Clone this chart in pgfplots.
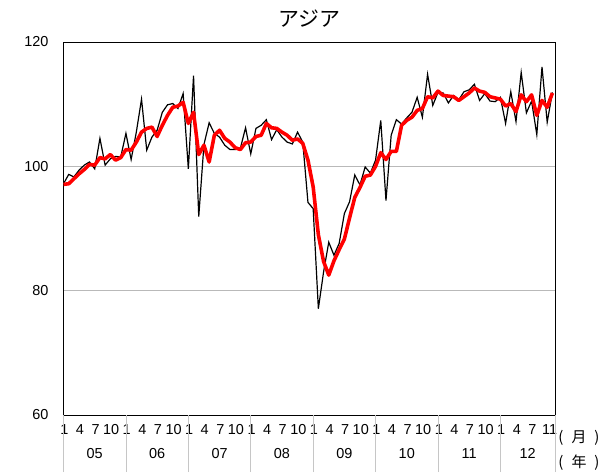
\documentclass[border=0pt]{standalone}
\usepackage{fontspec}
\setmainfont{Liberation Sans}
\newfontfamily\cjk{Noto Sans CJK JP}
\usepackage{pgfplots}
\usepackage{pgfplotstable}
\pgfplotsset{compat=1.18}

% month index (0 = 2005/1), raw index, smoothed index
\pgfplotstableread{
i raw sa
0 97.2 97.1
1 98.7 97.2
2 98.3 98.0
3 99.4 98.8
4 100.2 99.5
5 100.7 100.3
6 99.6 100.2
7 104.5 101.4
8 100.2 101.2
9 101.2 101.9
10 101.6 101.0
11 101.5 101.4
12 105.3 102.7
13 101.1 102.6
14 105.5 103.9
15 110.8 105.5
16 102.6 106.1
17 104.7 106.3
18 105.8 104.8
19 108.7 106.6
20 109.9 108.2
21 110.1 109.5
22 109.3 109.7
23 111.7 110.3
24 99.6 106.9
25 114.6 108.7
26 91.9 101.9
27 103.5 103.4
28 107.0 100.7
29 105.3 105.0
30 104.7 105.8
31 103.4 104.5
32 102.7 103.9
33 102.7 103.0
34 102.9 102.7
35 106.2 103.8
36 102.0 103.9
37 106.1 104.8
38 106.6 105.0
39 107.5 106.9
40 104.3 106.2
41 105.9 106.1
42 104.7 105.5
43 103.9 105.0
44 103.6 104.2
45 105.5 104.4
46 103.9 103.7
47 94.2 101.0
48 93.2 96.7
49 77.1 89.0
50 83.0 84.7
51 87.8 82.5
52 85.7 84.8
53 87.6 86.6
54 92.4 88.3
55 94.3 91.7
56 98.6 95.0
57 97.0 96.6
58 99.9 98.4
59 98.9 98.6
60 101.0 100.0
61 107.4 102.2
62 94.5 101.1
63 105.0 102.4
64 107.5 102.4
65 106.8 106.6
66 107.8 107.4
67 108.7 107.9
68 111.1 109.0
69 107.9 109.3
70 114.8 111.2
71 109.8 111.0
72 111.9 112.1
73 111.8 111.4
74 110.2 111.3
75 111.4 111.2
76 110.7 110.6
77 112.0 111.2
78 112.3 111.8
79 113.2 112.6
80 110.6 112.1
81 111.7 111.9
82 110.5 111.2
83 110.4 111.0
84 111.1 110.8
85 106.9 109.7
86 112.0 110.1
87 107.2 108.8
88 115.1 111.5
89 108.6 110.4
90 110.5 111.5
91 105.1 108.2
92 116.0 110.6
93 107.1 109.5
94 111.9 111.8
}\asia

\begin{document}
\begin{tikzpicture}
\path[use as bounding box] (-63bp,-60bp) rectangle (547bp,415bp);
\begin{axis}[
  at={(0,0)}, anchor=south west,
  scale only axis, width=492bp, height=373bp,
  xmin=-0.1, xmax=94.5, ymin=60, ymax=120,
  ytick={60,80,100,120},
  ymajorgrids, grid style={gray!55, line width=0.6pt},
  xtick={0,3,6,9,12,15,18,21,24,27,30,33,36,39,42,45,48,51,54,57,60,63,66,69,72,75,78,81,84,87,90,93.3},
  xticklabels={1,4,7,10,1,4,7,10,1,4,7,10,1,4,7,10,1,4,7,10,1,4,7,10,1,4,7,10,1,4,7,11},
  major tick length=0pt,
  tick label style={font=\fontsize{14.5}{16}\selectfont},
  /pgf/number format/assume math mode=true,
  yticklabel style={xshift=-11bp},
  xticklabel style={yshift=-6bp, xshift=0.8bp},
  axis line style={black, line width=0.8pt},
  title={\cjk アジア},
  title style={font=\fontsize{21}{24}\selectfont, at={(0.5,1)}, anchor=south, yshift=5bp},
]
\addplot[black, line width=1.2pt, mark=none] table[x=i, y=raw] {\asia};
\addplot[red, line width=3.6pt, mark=none, line join=round] table[x=i, y=sa] {\asia};
\end{axis}
\begin{axis}[
  at={(0,0)}, anchor=south west,
  scale only axis, width=492bp, height=373bp,
  xmin=-0.1, xmax=94.5, ymin=60, ymax=120,
  axis line style={draw=none},
  ytick=\empty,
  xtick pos=left,
  xtick={6,18,30,42,54,66,78,89.25},
  xticklabels={05,06,07,08,09,10,11,12},
  major tick length=0pt,
  tick label style={font=\fontsize{14.5}{16}\selectfont},
  xticklabel style={yshift=-30bp},
  extra x ticks={0,12,24,36,48,60,72,84,94.5},
  extra x tick labels={},
  extra x tick style={major tick length=57bp, tick align=outside, tick style={draw=gray!45, line width=0.8pt}},
  clip=false,
]
\node[font=\cjk\fontsize{15}{17}\selectfont] at ([xshift=24bp,yshift=-23bp]rel axis cs:1,0) {(\hspace{8bp}月\hspace{8bp})};
\node[font=\cjk\fontsize{15}{17}\selectfont] at ([xshift=24bp,yshift=-48bp]rel axis cs:1,0) {(\hspace{8bp}年\hspace{8bp})};
\end{axis}
\end{tikzpicture}
\end{document}
